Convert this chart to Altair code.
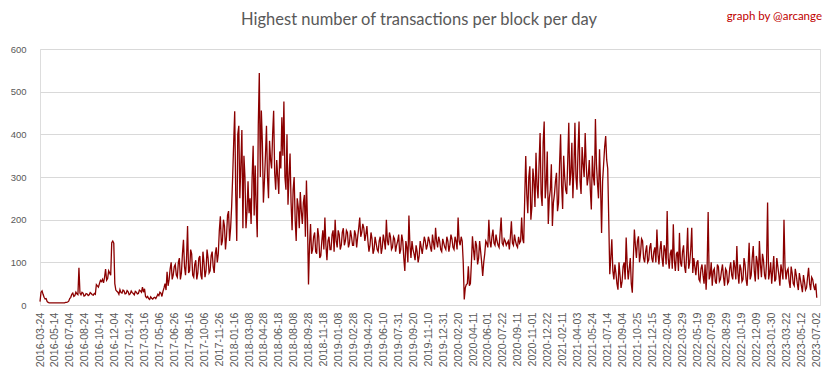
import altair as alt
import pandas as pd

# Tick labels (one every 51 daily categories)
tick_labels = [
    "2016-03-24", "2016-05-14", "2016-07-04", "2016-08-24", "2016-10-14", "2016-12-04",
    "2017-01-24", "2017-03-16", "2017-05-06", "2017-06-26", "2017-08-16", "2017-10-06",
    "2017-11-26", "2018-01-16", "2018-03-08", "2018-04-28", "2018-06-18", "2018-08-08",
    "2018-09-28", "2018-11-18", "2019-01-08", "2019-02-28", "2019-04-20", "2019-06-10",
    "2019-07-31", "2019-09-20", "2019-11-10", "2019-12-31", "2020-02-20", "2020-04-11",
    "2020-06-01", "2020-07-22", "2020-09-11", "2020-11-01", "2020-12-22", "2021-02-11",
    "2021-04-03", "2021-05-24", "2021-07-14", "2021-09-04", "2021-10-25", "2021-12-15",
    "2022-02-04", "2022-03-29", "2022-05-19", "2022-07-09", "2022-08-29", "2022-10-19",
    "2022-12-09", "2023-01-30", "2023-03-22", "2023-05-12", "2023-07-02",
]
label_step = 51
sample_step = 7  # readings taken weekly, plus one mid-week reading

# Weekly readings of the highest transactions per block
vals_2016 = [8, 33, 18, 15, 6, 5, 5, 5, 5, 5,
             5, 5, 5, 6, 9, 18, 28, 22, 26, 87,
             24, 28, 22, 26, 24, 27, 23, 25, 45, 50,
             55, 52, 84, 62, 75, 146, 145, 35,
             30, 36, 28, 33, 27, 31, 26, 29, 24, 30, 27, 33, 42, 38]
vals_2017 = [17, 15, 19, 14, 18, 20,
             22, 28, 32, 50, 78, 60, 100, 70,
             95, 65, 110, 75, 153, 70, 185, 80, 120, 65, 105, 75, 115, 60, 100, 80,
             110, 80, 125, 75, 135, 120, 208, 150, 185, 160, 220, 180]
vals_2018 = [300, 454, 150, 420, 330, 180, 300, 220,
             215, 190, 373, 327, 159,
             544, 456, 240, 350, 300, 385, 320, 455, 270, 300, 360, 440, 477, 270,
             235, 355, 175, 300, 150, 230, 265, 190, 258, 292, 48]
vals_2019 = [190, 130, 170, 120, 160, 115, 175, 205, 105, 160,
             130, 175, 200, 135, 165, 140, 180, 150, 170, 145,
             160, 140, 165, 160, 205, 170, 180, 165, 150, 140,
             155, 130, 145, 125, 160, 135, 150, 200, 140, 160,
             135, 155, 140, 165, 130, 150, 80, 135, 210, 110,
             130, 105, 125, 115, 135, 140, 150,
             140, 150, 125, 145, 181, 135, 150, 125, 145, 130,
             150, 140, 155, 130, 150, 205, 140, 150]
vals_2020 = [13, 48, 91, 50, 161, 105, 140, 110, 125, 68,
             120, 145, 200, 135, 177, 140, 150, 135, 205, 140,
             150, 145, 130, 196, 140, 150, 135, 145, 205, 145]
vals_2021 = [349, 215, 325, 230, 290, 357, 250, 403, 232, 430,
             285, 190, 270, 185, 260, 310, 240, 400, 225, 300,
             260, 427, 310, 250, 427, 270, 430, 260, 330, 403,
             280, 340, 224, 300, 436, 285, 365, 169, 330, 396, 320,
             72, 154, 60, 75, 36, 70, 55]
vals_2022 = [100, 158, 60, 110, 29, 177, 110, 161, 120, 150,
             100, 140, 105, 145, 100, 135, 177, 95, 150, 90,
             130, 220, 85, 130, 189, 80, 125, 169, 90, 140,
             75, 181, 100, 181, 110, 70, 105, 55, 95, 50,
             36, 218, 70, 45, 85, 50, 90, 60, 95, 45,
             80, 55, 100, 60, 90, 138, 50, 85, 60, 95]
vals_2023 = [45, 146, 70, 138, 55, 100, 150, 65, 105, 60,
             240, 75, 50, 115, 60, 90, 45, 80, 200, 60,
             85, 40, 75, 45, 70, 35, 60, 30, 55, 40,
             87, 35, 60, 35, 17]

# Mid-week readings (between consecutive weekly readings)
mid_2016 = [30, 25, 14, 8, 5, 5, 5, 5, 5, 5,
            5, 5, 6, 7, 15, 25, 20, 30, 24, 28,
            30, 21, 27, 22, 29, 24, 27, 48, 42, 58,
            60, 65, 58, 80, 70, 150, 50, 32,
            25, 29, 35, 26, 34, 24, 33, 27, 32, 26, 35, 30, 30, 20]
mid_2017 = [20, 13, 16, 17, 15, 25,
            30, 20, 40, 35, 45, 85, 60, 90,
            70, 100, 60, 120, 90, 110, 75, 130, 70, 95, 60, 110, 70, 125, 65, 130,
            75, 115, 90, 120, 100, 175, 140, 200, 130, 210, 150, 230]
mid_2018 = [380, 260, 400, 250, 410, 350, 180, 290,
            250, 300, 210, 230, 420,
            300, 380, 290, 420, 250, 340, 400, 310, 340, 260, 320, 350, 300, 400,
            300, 240, 270, 200, 250, 180, 220, 240, 160, 200, 140]
mid_2019 = [120, 160, 125, 180, 110, 150, 130, 140, 150, 130,
            165, 125, 150, 175, 130, 170, 140, 175, 135, 175,
            140, 175, 135, 180, 160, 190, 150, 185, 125, 170,
            120, 160, 130, 150, 120, 165, 130, 150, 170, 130,
            160, 125, 150, 120, 165, 110, 150, 100, 140, 150,
            120, 140, 100, 150, 120, 160, 130,
            160, 135, 165, 130, 150, 160, 130, 155, 135, 160,
            125, 165, 135, 160, 130, 150, 160, 100]
mid_2020 = [40, 50, 45, 100, 130, 150, 95, 150, 100, 100,
            150, 135, 150, 160, 145, 165, 140, 170, 145, 155,
            140, 150, 160, 145, 165, 140, 160, 150, 155, 250]
mid_2021 = [260, 300, 200, 320, 230, 280, 330, 260, 380, 250,
            360, 250, 330, 240, 290, 220, 330, 280, 350, 270,
            340, 280, 380, 320, 300, 360, 290, 370, 300, 330,
            300, 270, 350, 280, 330, 250, 280, 290, 370, 340, 200,
            110, 80, 95, 50, 100, 40, 90]
mid_2022 = [60, 95, 85, 50, 110, 140, 150, 100, 155, 110,
            125, 100, 135, 110, 125, 100, 120, 130, 110, 140,
            95, 110, 120, 85, 105, 120, 80, 100, 125, 90,
            120, 85, 130, 75, 90, 100, 60, 85, 70, 95,
            90, 60, 100, 80, 55, 95, 55, 80, 65, 85,
            50, 85, 70, 105, 60, 75, 95, 55, 110, 60]
mid_2023 = [90, 60, 110, 80, 115, 60, 95, 120, 70, 100,
            60, 100, 80, 55, 110, 70, 95, 60, 90, 80,
            55, 90, 50, 85, 50, 75, 45, 70, 35, 65,
            50, 65, 45, 50]

values = vals_2016 + vals_2017 + vals_2018 + vals_2019 + vals_2020 + vals_2021 + vals_2022 + vals_2023
mids = mid_2016 + mid_2017 + mid_2018 + mid_2019 + mid_2020 + mid_2021 + mid_2022 + mid_2023

rows = []
for i, v in enumerate(values):
    rows.append({"day": i * sample_step, "tx": v})
    if i < len(mids):
        rows.append({"day": i * sample_step + sample_step / 2, "tx": mids[i]})
df = pd.DataFrame(rows)

label_js = "[" + ",".join("'" + s + "'" for s in tick_labels) + "]"
tick_vals = [i * label_step for i in range(len(tick_labels))]

W, H = 780, 256

line = alt.Chart(df).mark_line(color="#8b0000", strokeWidth=1.3).encode(
    x=alt.X("day:Q",
            scale=alt.Scale(domain=[0, 2664], nice=False, zero=False),
            axis=alt.Axis(values=tick_vals, labelExpr=label_js + "[round(datum.value/51)]",
                          labelAngle=270, labelFontSize=10.7, labelFont="Liberation Sans",
                          labelColor="#595959", labelPadding=7, ticks=False, grid=False,
                          domainColor="#d9d9d9", domainWidth=1, title=None,
                          labelOverlap=False, labelBound=False, labelFlush=False)),
    y=alt.Y("tx:Q",
            scale=alt.Scale(domain=[0, 600], nice=False),
            axis=alt.Axis(values=[0, 100, 200, 300, 400, 500, 600], labelFontSize=9.5,
                          labelFont="Liberation Sans", labelColor="#595959", labelPadding=14,
                          ticks=False, domain=False, gridColor="#d9d9d9", gridWidth=1,
                          title=None)),
)

title = alt.Chart(pd.DataFrame({"t": ["Highest number of transactions per block per day"]})).mark_text(
    font="Lato", fontSize=16.5, color="#595959", align="center", baseline="middle"
).encode(x=alt.value(379), y=alt.value(-29), text="t:N")

credit = alt.Chart(pd.DataFrame({"t": ["graph by @arcange"]})).mark_text(
    font="Lato", fontSize=11.5, color="#c00000", align="right", baseline="middle"
).encode(x=alt.value(782), y=alt.value(-32), text="t:N")

chart = alt.layer(line, title, credit).properties(
    width=W, height=H,
    autosize=alt.AutoSizeParams(type="none"),
    padding={"left": 32, "top": 41, "right": 5, "bottom": 66},
).configure_view(stroke=None).configure(background="white")

chart.save("out.html", embed_options={"renderer": "svg", "actions": False})
